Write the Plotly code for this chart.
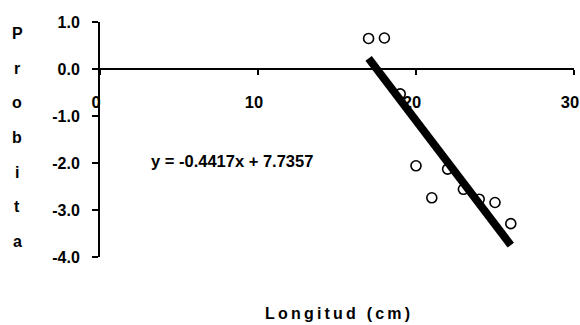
import plotly.graph_objects as go

# Longitud (cm) and probit values
longitud = [17, 18, 19, 20, 21, 22, 23, 24, 25, 26]
probit = [0.65, 0.66, -0.53, -2.06, -2.74, -2.13, -2.56, -2.77, -2.84, -3.29]

# Fitted straight line
slope = -0.4417
intercept = 7.7357

x_ticks = [0, 10, 20, 30]
y_ticks = [1.0, 0.0, -1.0, -2.0, -3.0, -4.0]
y_tick_text = [f"{v:.1f}" for v in y_ticks]

FONT = "Liberation Sans, Arial, sans-serif"

fit_x = [min(longitud), max(longitud)]
fit_y = [slope * v + intercept for v in fit_x]

fig = go.Figure()
fig.add_trace(go.Scatter(
    x=longitud, y=probit, mode="markers",
    marker=dict(symbol="circle-open", size=10, color="black",
                line=dict(width=1.6, color="black")),
    showlegend=False,
))
fig.add_trace(go.Scatter(
    x=fit_x, y=fit_y, mode="lines",
    line=dict(color="black", width=8),
    showlegend=False,
))

eq_text = f"y = {slope}x + {intercept}"
fig.add_annotation(
    x=3.1, y=-1.95, xref="x", yref="y", text=eq_text, showarrow=False,
    xanchor="left", yanchor="middle",
    font=dict(family=FONT, size=16.5, color="black", weight="bold"),
)

# X-axis title, letter-spaced
x_title = "\u2009".join("Longitud (cm)")
fig.add_annotation(
    x=(337 - 100) / 474, y=-(313 - 257) / 235, xref="paper", yref="paper",
    text=x_title, showarrow=False, xanchor="center", yanchor="middle",
    font=dict(family=FONT, size=16, color="black", weight="bold"),
)

# Y-axis title stacked one letter per row
y_title = "Probita"
top_px, step_px = 34, 34.5
for i, ch in enumerate(y_title):
    ypx = top_px + i * step_px
    fig.add_annotation(
        x=-83 / 474, y=1 - (ypx - 22) / 235, xref="paper", yref="paper",
        text=ch, showarrow=False, xanchor="center", yanchor="middle",
        font=dict(family=FONT, size=16, color="black", weight="bold"),
    )

fig.update_layout(
    width=580, height=325,
    margin=dict(l=100, r=6, t=22, b=68, autoexpand=False),
    paper_bgcolor="white", plot_bgcolor="white",
    xaxis=dict(
        range=[0, 30], tickvals=x_ticks, ticktext=[str(v) for v in x_ticks],
        showgrid=False, zeroline=False, showline=True, linecolor="black",
        linewidth=2, ticks="outside", ticklen=5, tickwidth=2,
        tickcolor="black", anchor="free", position=0.8, automargin=False,
        ticklabelstandoff=13, ticklabeloverflow="allow", ticklabelshift=-4,
        tickfont=dict(family=FONT, size=16.5, color="black", weight="bold"),
    ),
    yaxis=dict(
        range=[-4, 1], tickvals=y_ticks, ticktext=y_tick_text,
        showgrid=False, zeroline=False, showline=True, linecolor="black",
        linewidth=2, ticks="outside", ticklen=6, tickwidth=2,
        tickcolor="black", ticklabelstandoff=9, automargin=False,
        tickfont=dict(family=FONT, size=16, color="black", weight="bold"),
    ),
)

fig.write_html("out.html")
